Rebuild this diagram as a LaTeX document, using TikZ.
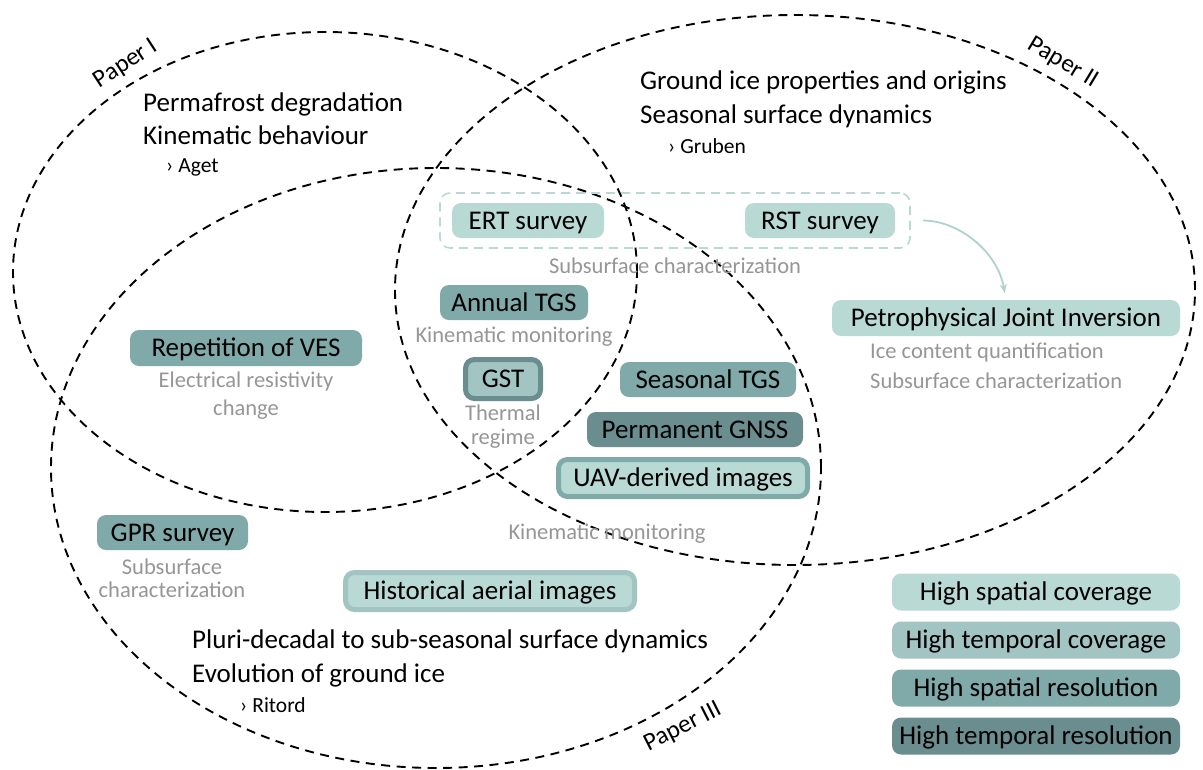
\documentclass[tikz,border=0pt]{standalone}
\usepackage{fontspec}
\setmainfont{Carlito}
\usetikzlibrary{arrows.meta}
\definecolor{cov}{HTML}{B9D9D4}
\definecolor{tcov}{HTML}{A2C4C3}
\definecolor{sres}{HTML}{7FAAA9}
\definecolor{tres}{HTML}{6A8D8F}
\definecolor{notegray}{HTML}{969696}
\tikzset{
  paper/.style={draw=black, line width=1.9pt, dash pattern=on 9pt off 6.5pt},
  tool/.style={rounded corners=9pt, inner sep=0pt, font=\fontsize{27}{32}\selectfont, text=black,
               text height=21pt, text depth=3.6pt},
  notetext/.style={text=notegray, font=\fontsize{22.5}{26}\selectfont, inner sep=0pt, align=center},
  theme/.style={font=\fontsize{27}{32}\selectfont, anchor=base west, inner sep=0pt},
  refname/.style={font=\fontsize{21.5}{25}\selectfont, anchor=base west, inner sep=0pt},
  plabel/.style={font=\fontsize{25}{30}\selectfont, inner sep=0pt},
  legendbox/.style={tool, minimum width=288pt, minimum height=37pt},
}
\begin{document}
\begin{tikzpicture}[x=1pt,y=-1pt]
\useasboundingbox[fill=white] (0,0) rectangle (1203,769);

% ellipses
\draw[paper] (325,272) ellipse [x radius=312pt, y radius=240pt];
\draw[paper] (795,290) ellipse [x radius=400pt, y radius=275pt];
\draw[paper] (436,468) ellipse [x radius=385pt, y radius=300pt];

% paper labels
\node[plabel, rotate=33] (p1) at (126,64) {Paper I};
\node[plabel, rotate=-31] (p2) at (1063,63) {Paper II};
\node[plabel, rotate=27] (p3) at (683,727) {Paper III};

% themes
\node[theme] (t1a) at (143,111) {Permafrost degradation};
\node[theme] (t1b) at (143,144) {Kinematic behaviour};
\node[refname] (r1) at (166,172) {› Aget};
\node[theme] (t2a) at (640,89) {Ground ice properties and origins};
\node[theme] (t2b) at (640,123) {Seasonal surface dynamics};
\node[refname] (r2) at (668,153) {› Gruben};
\node[theme] (t3a) at (192,648) {Pluri-decadal to sub-seasonal surface dynamics};
\node[theme] (t3b) at (192,682) {Evolution of ground ice};
\node[refname] (r3) at (240,712) {› Ritord};

% subsurface group
\node[tool, fill=cov, minimum width=152pt, minimum height=35pt] (ert) at (528,220.5) {ERT survey};
\node[tool, fill=cov, minimum width=150pt, minimum height=35pt] (rst) at (820,220.5) {RST survey};
\node[draw=cov, line width=1.6pt, dash pattern=on 9pt off 6pt, rounded corners=10pt,
      minimum width=470pt, minimum height=55pt, inner sep=0pt] (grp) at (675,220.5) {};
\node[notetext] (grpnote) at (675,266) {Subsurface characterization};

\node[tool, fill=cov, minimum width=348pt, minimum height=36pt] (pji) at (1006,318) {Petrophysical Joint Inversion};
\node[notetext, anchor=west, align=left] (pjin1) at (870,353) {Ice content quantification};
\node[notetext, anchor=west, align=left] (pjin2) at (870,381) {Subsurface characterization};
\draw[draw=cov!85!sres, line width=1.8pt, -{Stealth[length=9pt,width=7pt]}, shorten <=12pt, shorten >=7pt]
  (grp.east) to[out=0, in=100] (pji.north);

% inner tools
\node[tool, fill=sres, minimum width=148pt, minimum height=35pt] (atgs) at (514,302.5) {Annual TGS};
\node[notetext] (atgsnote) at (514,337) {Kinematic monitoring};
\node[tool, fill=tcov, draw=tres, line width=5pt, minimum width=75pt, minimum height=39pt] (gst) at (503,379) {GST};
\node[notetext] (gstnote) at (503,427) {Thermal\\[-2pt]regime};

\node[tool, fill=sres, minimum width=232pt, minimum height=36pt] (ves) at (246,348) {Repetition of VES};
\node[notetext] (vesnote) at (246,396) {Electrical resistivity\\[2pt]change};

\node[tool, fill=sres, minimum width=176pt, minimum height=35pt] (stgs) at (708,379.5) {Seasonal TGS};
\node[tool, fill=tres, minimum width=216pt, minimum height=35pt] (gnss) at (695,429.5) {Permanent GNSS};
\node[tool, fill=cov, draw=sres, line width=5pt, minimum width=249pt, minimum height=37pt] (uav) at (683,478) {UAV-derived images};
\node[notetext] (kinnote) at (607,534) {Kinematic monitoring};

\node[tool, fill=sres, minimum width=151pt, minimum height=35pt] (gpr) at (172.5,532.5) {GPR survey};
\node[notetext] (gprnote) at (172,578) {Subsurface\\[-3pt]characterization};

\node[tool, fill=cov, draw=tcov, line width=5pt, minimum width=289pt, minimum height=37pt] (hist) at (490,591) {Historical aerial images};

% legend
\node[legendbox, fill=cov] (l1) at (1036,592) {High spatial coverage};
\node[legendbox, fill=tcov] (l2) at (1036,640) {High temporal coverage};
\node[legendbox, fill=sres] (l3) at (1036,688) {High spatial resolution};
\node[legendbox, fill=tres] (l4) at (1036,736) {High temporal resolution};
\end{tikzpicture}
\end{document}
